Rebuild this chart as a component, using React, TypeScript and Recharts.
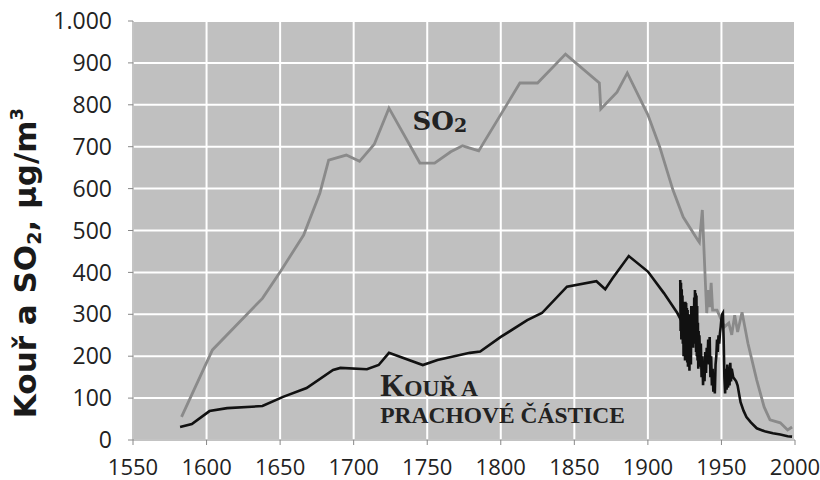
import React from "react";
import {
  LineChart,
  Line,
  XAxis,
  YAxis,
  CartesianGrid,
  ReferenceDot,
  Label,
} from "recharts";

// ---- Data ----
const xTicks = [1550, 1600, 1650, 1700, 1750, 1800, 1850, 1900, 1950, 2000];
const yTicks = [0, 100, 200, 300, 400, 500, 600, 700, 800, 900, 1000];

// SO2 (gray line)
const so2Years = [
  1583, 1604, 1638, 1650, 1666, 1677, 1683, 1695, 1704, 1714, 1724, 1745, 1755,
  1766, 1774, 1785, 1813, 1825, 1844, 1867, 1868, 1879, 1886, 1900, 1908, 1917,
  1924, 1934, 1935, 1937, 1939, 1940, 1941, 1942, 1943, 1944, 1947, 1950, 1952,
  1955, 1957, 1959, 1961, 1964, 1968, 1974, 1979, 1983, 1990, 1995, 1998,
];
const so2Values = [
  55, 215, 338, 401, 489, 589, 668, 680, 665, 706, 792, 661, 661,
  688, 702, 690, 852, 852, 921, 852, 790, 830, 876, 776, 700, 597,
  532, 477, 472, 549, 382, 303, 358, 317, 375, 310, 310, 286, 270,
  279, 251, 298, 258, 305, 231, 143, 79, 48, 41, 24, 31,
];

// Smoke and particulates – long-term reconstruction (black line)
const smokeYears = [
  1582, 1590, 1602, 1614, 1638, 1652, 1668, 1686, 1691, 1709, 1717, 1724, 1747,
  1757, 1779, 1786, 1800, 1818, 1828, 1845, 1865, 1871, 1876, 1887, 1900, 1911,
  1920, 1925, 1930, 1934,
];
const smokeValues = [
  31, 38, 69, 76, 81, 103, 124, 167, 172, 169, 179, 208, 179,
  191, 208, 211, 246, 286, 303, 366, 379, 360, 386, 439, 402, 350,
  303, 270, 255, 246,
];

// Smoke and particulates – measured series (dense black zigzag)
const smokeMeasYears = [
  1922, 1922.25, 1922.5, 1922.75, 1923, 1923.25, 1923.5, 1923.75, 1924, 1924.25,
  1924.5, 1924.75, 1925, 1925.25, 1925.5, 1925.75, 1926, 1926.25, 1926.5, 1926.75,
  1927, 1927.25, 1927.5, 1927.75, 1928, 1928.25, 1928.5, 1928.75, 1929, 1929.25,
  1929.5, 1929.75, 1930, 1930.25, 1930.5, 1930.75, 1931, 1931.25, 1931.5, 1931.75,
  1932, 1932.25, 1932.5, 1932.75, 1933, 1933.25, 1933.5, 1933.75, 1934, 1934.25,
  1934.5, 1934.75, 1935, 1935.5, 1936, 1936.5, 1937, 1937.5, 1938,
  1938.5, 1939, 1939.5, 1940, 1940.5, 1941, 1941.5, 1942, 1942.5, 1943, 1943.5,
  1944, 1944.5, 1945, 1945.5, 1946, 1946.5, 1947, 1947.5, 1948, 1948.5, 1949,
  1949.5, 1950, 1950.5, 1951, 1951.5, 1952, 1952.5, 1953, 1953.5, 1954, 1954.5,
  1955, 1955.5, 1956, 1956.5, 1957, 1958, 1959, 1960, 1961, 1962, 1963, 1965,
  1967, 1970, 1974, 1980, 1985, 1990, 1995, 1998,
];
const smokeMeasValues = [
  382, 260, 375, 240, 360, 250, 345, 230, 330, 200,
  325, 210, 320, 190, 330, 220, 327, 200, 315, 185,
  310, 175, 300, 190, 290, 165, 280, 200, 300, 180,
  320, 230, 320, 240, 300, 220, 300, 250, 340, 230,
  358, 240, 350, 210, 345, 200, 320, 190, 280, 170,
  260, 175, 250, 190, 230, 150, 200, 131, 180,
  140, 210, 160, 220, 190, 240, 180, 246, 150, 200, 130,
  170, 115, 150, 111, 180, 200, 240, 210, 250, 230, 255,
  270, 290, 300, 303, 240, 150, 111, 170, 120, 180, 125,
  175, 130, 184, 140, 170, 150, 145, 140, 130, 110, 90, 70,
  55, 42, 28, 20, 16, 13, 9, 8,
];

const so2Data = so2Years.map((year, i) => ({ year, v: so2Values[i] }));
const smokeData = smokeYears.map((year, i) => ({ year, v: smokeValues[i] }));
const smokeMeasData = smokeMeasYears.map((year, i) => ({
  year,
  v: smokeMeasValues[i],
}));

const TICK_FONT = "'Open Sans', sans-serif";
const SERIF = "'Liberation Serif', serif";

const fmtY = (v: number) => (v === 1000 ? "1.000" : String(v));

const YTitle = () => {
  const cx = 36;
  const cy = 263;
  return (
    <text
      x={cx}
      y={cy}
      transform={`rotate(-90, ${cx}, ${cy})`}
      textAnchor="middle"
      fontFamily="'DejaVu Sans', sans-serif"
      fontWeight={700}
      fontSize={31}
      fill="#1a1a1a"
    >
      <tspan>Kouř a SO</tspan>
      <tspan fontSize={19} dy={5}>2</tspan>
      <tspan dy={-5}>, µg/m</tspan>
      <tspan fontSize={18} dy={-13}>3</tspan>
    </text>
  );
};

const So2Label = (p: any) => (
  <text
    x={p.cx}
    y={p.cy}
    fontFamily="'DejaVu Serif', serif"
    fontWeight={700}
    fontSize={26}
    fill="#222"
  >
    <tspan>SO</tspan>
    <tspan fontSize={19} dy={2}>2</tspan>
  </text>
);

const SmokeLabel1 = (p: any) => (
  <text x={p.cx} y={p.cy} fontFamily={SERIF} fontWeight={700} fill="#222">
    <tspan fontSize={31}>K</tspan>
    <tspan fontSize={23.5}>OUŘ A</tspan>
  </text>
);

const SmokeLabel2 = (p: any) => (
  <text
    x={p.cx}
    y={p.cy}
    fontFamily={SERIF}
    fontWeight={700}
    fontSize={23.5}
    fill="#222"
  >
    PRACHOVÉ ČÁSTICE
  </text>
);

export default function App() {
  return (
    <div style={{ position: "absolute", left: 0, top: 0, background: "#fff" }}>
      <LineChart
        width={820}
        height={480}
        margin={{ top: 21, right: 25, bottom: 0, left: 0 }}
      >
        <CartesianGrid
          fill="#c0c0c0"
          stroke="#ffffff"
          strokeWidth={2}
          horizontalValues={yTicks}
          verticalValues={xTicks}
        />
        <XAxis
          type="number"
          dataKey="year"
          domain={[1550, 2000]}
          ticks={xTicks}
          allowDataOverflow
          height={40}
          tickSize={5}
          tickMargin={14}
          stroke="#888"
          tick={{ fontFamily: TICK_FONT, fontSize: 22, fill: "#222" }}
        />
        <YAxis
          type="number"
          domain={[0, 1000]}
          ticks={yTicks}
          width={133}
          tickSize={5}
          tickMargin={16}
          stroke="#888"
          tickFormatter={fmtY}
          tick={{ fontFamily: TICK_FONT, fontSize: 23, fill: "#222" }}
        >
          <Label content={<YTitle />} />
        </YAxis>
        <Line
          data={so2Data}
          dataKey="v"
          type="linear"
          stroke="#8a8a8a"
          strokeWidth={2.8}
          dot={false}
          isAnimationActive={false}
        />
        <Line
          data={smokeData}
          dataKey="v"
          type="linear"
          stroke="#111"
          strokeWidth={2.6}
          dot={false}
          isAnimationActive={false}
        />
        <Line
          data={smokeMeasData}
          dataKey="v"
          type="linear"
          stroke="#111"
          strokeWidth={2.6}
          dot={false}
          isAnimationActive={false}
        />
        <ReferenceDot x={1740} y={740} r={0} shape={So2Label} />
        <ReferenceDot x={1718} y={105} r={0} shape={SmokeLabel1} />
        <ReferenceDot x={1718} y={41} r={0} shape={SmokeLabel2} />
      </LineChart>
    </div>
  );
}
